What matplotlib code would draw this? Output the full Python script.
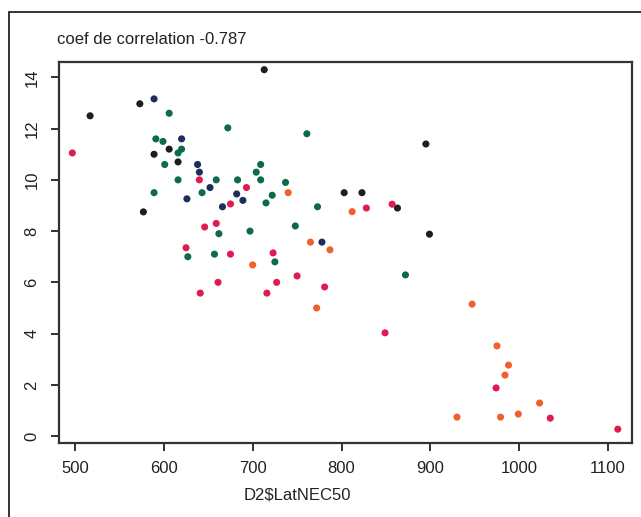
import matplotlib
matplotlib.use("Agg")
import matplotlib.pyplot as plt
from matplotlib.patches import Rectangle

plt.rcParams['font.family'] = ['Liberation Sans', 'DejaVu Sans']

# points, grouped by colour
black_x = [517, 573, 606, 589, 616, 713, 577, 895, 803, 823, 863, 899]
black_y = [12.5, 12.97, 11.2, 11.0, 10.7, 14.3, 8.75, 11.4, 9.5, 9.5, 8.9, 7.88]

navy_x = [589, 620, 638, 640, 652, 682, 689, 626, 666, 778]
navy_y = [13.16, 11.6, 10.6, 10.3, 9.7, 9.45, 9.2, 9.26, 8.95, 7.57]

green_x = [606, 672, 591, 599, 620, 616, 601, 616, 659, 683, 709, 704, 709,
           737, 722, 589, 643, 715, 773, 662, 697, 748, 627, 657, 725, 761, 872]
green_y = [12.6, 12.03, 11.6, 11.5, 11.2, 11.05, 10.6, 10.0, 10.0, 10.0, 10.6,
           10.3, 10.0, 9.9, 9.4, 9.5, 9.5, 9.1, 8.95, 7.9, 8.0, 8.2, 7.0, 7.1,
           6.8, 11.8, 6.29]

red_x = [497, 640, 693, 675, 646, 659, 625, 675, 723, 750, 661, 727, 641, 716,
         781, 849, 974, 1035, 1111, 828, 857]
red_y = [11.05, 10.0, 9.7, 9.06, 8.16, 8.3, 7.35, 7.1, 7.15, 6.25, 6.0, 6.0,
         5.58, 5.58, 5.82, 4.03, 1.88, 0.7, 0.27, 8.9, 9.05]

orange_x = [740, 765, 787, 700, 772, 812, 947, 975, 988, 984, 1023, 930, 979, 999]
orange_y = [9.5, 7.57, 7.27, 6.68, 5.0, 8.76, 5.15, 3.52, 2.77, 2.38, 1.29,
            0.74, 0.74, 0.86]

x_ticks = [500, 600, 700, 800, 900, 1000, 1100]
y_ticks = [0, 2, 4, 6, 8, 10, 12, 14]

W, H = 641, 517
fig = plt.figure(figsize=(W / 100, H / 100), dpi=100)
ax = fig.add_axes([59 / W, 1 - 443 / H, (632 - 59) / W, (443 - 62) / H])

groups = [
    (black_x, black_y, "#1e1e1e"),
    (navy_x, navy_y, "#1f2d5a"),
    (green_x, green_y, "#0d6a4a"),
    (red_x, red_y, "#df1b4f"),
    (orange_x, orange_y, "#f0602e"),
]
for gx, gy, col in groups:
    ax.scatter(gx, gy, s=26, c=col, edgecolors="none", zorder=3)

ax.set_xlim(482, 1127)
ax.set_ylim(-0.27, 14.6)
ax.set_xticks(x_ticks)
ax.set_yticks(y_ticks)
ax.tick_params(direction="out", length=6, width=1.3, labelsize=12, colors="#222222")
ax.tick_params(axis="x", pad=7)
ax.tick_params(axis="y", pad=8)
for lab in ax.get_yticklabels():
    lab.set_rotation(90)
    lab.set_va("center")
for sp in ax.spines.values():
    sp.set_linewidth(1.6)
    sp.set_color("#333333")

fig.text(57 / W, 1 - 40 / H, "coef de correlation -0.787", fontsize=12,
         ha="left", va="center", color="#222222")
fig.text(297 / W, 1 - 495 / H, "D2$LatNEC50", fontsize=12,
         ha="center", va="center", color="#222222")

# outer frame of the figure
fig.patches.append(Rectangle((9 / W, -0.5), 2, 1.5 - 12 / H,
                             transform=fig.transFigure, fill=False,
                             edgecolor="#111111", linewidth=1.2))

fig.savefig("out.png", dpi=100)
